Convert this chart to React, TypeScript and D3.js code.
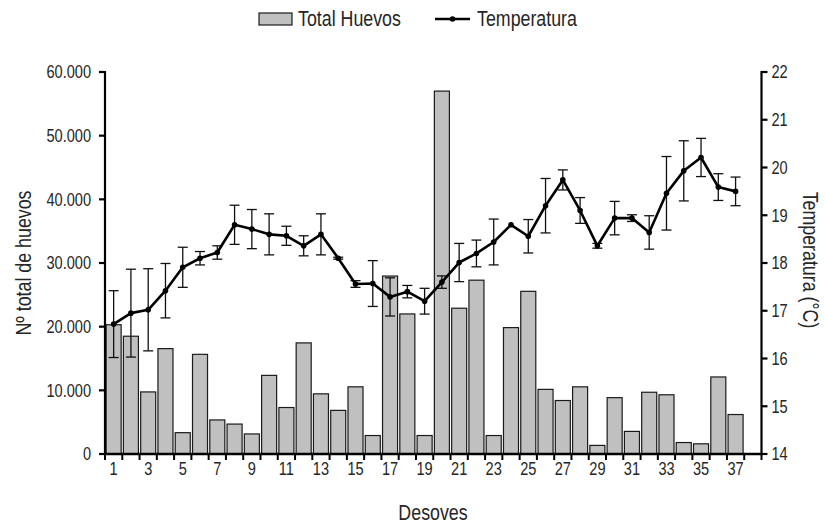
import React from "react";
import * as d3 from "d3";

const categories: number[] = d3.range(1, 39);
const huevos: number[] = [
  20300, 18500, 9750, 16550, 3350, 15650, 5350, 4700, 3150, 12350,
  7300, 17450, 9450, 6850, 10550, 2900, 27950, 22000, 2900, 57000,
  22900, 27300, 2900, 19850, 25550, 10150, 8400, 10550, 1350, 8850,
  3550, 9700, 9300, 1800, 1600, 12100, 6200,
];
const temperatura: number[] = [
  16.72, 16.95, 17.02, 17.42, 17.91, 18.10, 18.22, 18.80, 18.71, 18.60,
  18.57, 18.36, 18.60, 18.10, 17.56, 17.57, 17.29, 17.40, 17.20, 17.60,
  18.01, 18.20, 18.44, 18.80, 18.56, 19.20, 19.74, 19.10, 18.36, 18.94,
  18.94, 18.64, 19.46, 19.93, 20.21, 19.59, 19.50,
];
const errorTemp: number[] = [
  0.70, 0.92, 0.86, 0.57, 0.42, 0.14, 0.14, 0.41, 0.41, 0.43,
  0.20, 0.21, 0.43, 0.02, 0.07, 0.48, 0.40, 0.13, 0.27, 0.13,
  0.40, 0.28, 0.48, 0.0, 0.35, 0.57, 0.21, 0.27, 0.05, 0.35,
  0.07, 0.35, 0.77, 0.63, 0.40, 0.28, 0.30,
];
const leftTicks: number[] = [0, 10000, 20000, 30000, 40000, 50000, 60000];
const rightTicks: number[] = [14, 15, 16, 17, 18, 19, 20, 21, 22];

const W = 825;
const H = 527;
const FONT = "'Liberation Sans', Arial, sans-serif";
const TXT = "#262626";
const SX = 0.81;

type TProps = {
  x: number; y: number; size: number; anchor?: string; rotate?: number; dy?: string;
  children: React.ReactNode;
};
function T({ x, y, size, anchor = "start", rotate = 0, dy, children }: TProps) {
  return (
    <text transform={`translate(${x},${y}) rotate(${rotate}) scale(${SX},1)`} x={0} y={0} dy={dy}
      textAnchor={anchor} fontSize={size} fill={TXT}>{children}</text>
  );
}

export default function App() {
  const left = 105, right = 761.5, top = 72, bottom = 454;
  const x = d3.scaleBand<number>().domain(categories).range([left, right]).padding(0);
  const bw = x.bandwidth();
  const yL = d3.scaleLinear().domain([0, 60000]).range([bottom, top]);
  const yR = d3.scaleLinear().domain([14, 22]).range([bottom, top]);
  const fmt = (v: number) => d3.format(",")(v).replace(/,/g, ".");
  const cx = (i: number) => (x(categories[i]) as number) + bw / 2;
  const line = d3.line<number>().x((_, i) => cx(i)).y((d) => yR(d));
  const barW = bw * 0.87;

  return (
    <svg width={W} height={H} style={{ position: "absolute", left: 0, top: 0 }} fontFamily={FONT}>
      <rect x={0} y={0} width={W} height={H} fill="#fff" />
      {huevos.map((v, i) => (
        <rect key={"b" + i} x={cx(i) - barW / 2} y={yL(v)} width={barW} height={yL(0) - yL(v)}
          fill="#c0c0c0" stroke="#1a1a1a" strokeWidth={1.2} />
      ))}
      {temperatura.map((t, i) => {
        const e = errorTemp[i];
        if (e <= 0) return null;
        const c = cx(i);
        return (
          <g key={"e" + i} stroke="#111" strokeWidth={1.3}>
            <line x1={c} x2={c} y1={yR(t + e)} y2={yR(t - e)} />
            <line x1={c - 5} x2={c + 5} y1={yR(t + e)} y2={yR(t + e)} />
            <line x1={c - 5} x2={c + 5} y1={yR(t - e)} y2={yR(t - e)} />
          </g>
        );
      })}
      <path d={line(temperatura) || ""} fill="none" stroke="#000" strokeWidth={2.6} strokeLinejoin="round" />
      {temperatura.map((t, i) => (
        <circle key={"p" + i} cx={cx(i)} cy={yR(t)} r={2.8} fill="#000" />
      ))}
      {/* left axis */}
      <line x1={left} x2={left} y1={top - 1} y2={bottom + 1} stroke="#000" strokeWidth={2.2} />
      {leftTicks.map((t) => (
        <g key={"lt" + t}>
          <line x1={left - 6} x2={left} y1={yL(t)} y2={yL(t)} stroke="#000" strokeWidth={2.2} />
          <T x={left - 14} y={yL(t)} dy="0.36em" anchor="end" size={18}>{fmt(t)}</T>
        </g>
      ))}
      {/* right axis */}
      <line x1={right} x2={right} y1={top - 1} y2={bottom + 1} stroke="#000" strokeWidth={2.2} />
      {rightTicks.map((t) => (
        <g key={"rt" + t}>
          <line x1={right} x2={right + 6} y1={yR(t)} y2={yR(t)} stroke="#000" strokeWidth={2.2} />
          <T x={right + 10} y={yR(t)} dy="0.36em" size={18}>{t}</T>
        </g>
      ))}
      {/* x axis */}
      <line x1={left} x2={right} y1={bottom} y2={bottom} stroke="#000" strokeWidth={2.4} />
      {d3.range(0, categories.length + 1).map((i) => (
        <line key={"xt" + i} x1={left + i * bw} x2={left + i * bw} y1={bottom} y2={bottom + 6} stroke="#000" strokeWidth={2} />
      ))}
      {categories.map((c, i) => c % 2 === 1 ? (
        <T key={"xl" + c} x={cx(i)} y={bottom + 21} anchor="middle" size={18}>{c}</T>
      ) : null)}
      {/* titles */}
      <T x={433} y={520} anchor="middle" size={22}>Desoves</T>
      <T x={31} y={263} anchor="middle" size={22} rotate={-90}>Nº total de huevos</T>
      <T x={803} y={260} anchor="middle" size={22} rotate={90}>Temperatura (°C)</T>
      {/* legend */}
      <rect x={259} y={13} width={33} height={12} fill="#c0c0c0" stroke="#1a1a1a" strokeWidth={1.2} />
      <T x={298} y={26} size={22}>Total Huevos</T>
      <line x1={435} x2={470} y1={19} y2={19} stroke="#000" strokeWidth={2.6} />
      <circle cx={452.5} cy={19} r={2.8} fill="#000" />
      <T x={477} y={26} size={22}>Temperatura</T>
    </svg>
  );
}
